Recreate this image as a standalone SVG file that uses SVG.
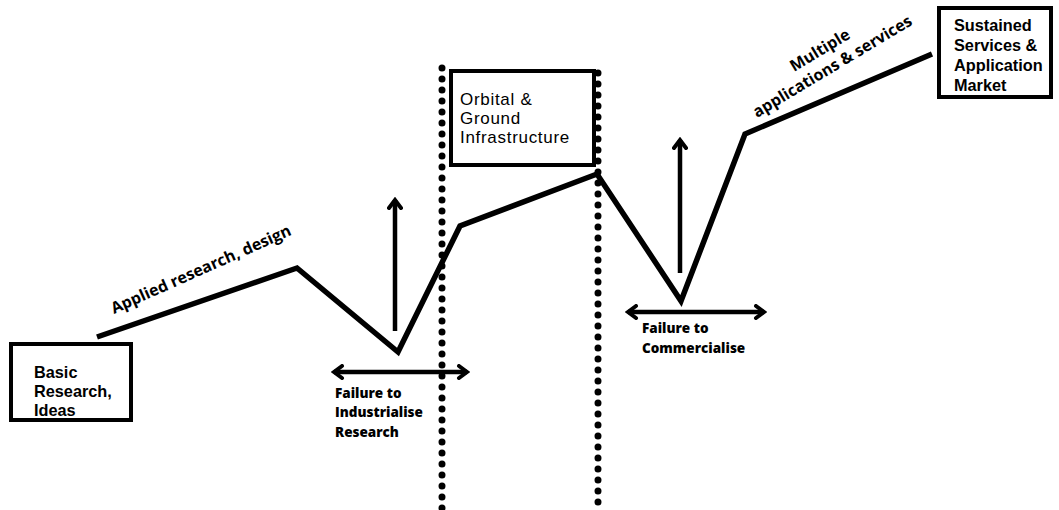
<svg xmlns="http://www.w3.org/2000/svg" width="1059" height="510" viewBox="0 0 1059 510">
<style>
.box{fill:#fff;stroke:#000;stroke-width:4}
.t{font-family:"Open Sans","Noto Sans",sans-serif;fill:#000}
.tb{font-family:"Liberation Sans",Arial,sans-serif;font-size:16.3px;font-weight:700}
.to{font-family:"Liberation Sans",Arial,sans-serif;font-size:17px;font-weight:400;letter-spacing:0.7px}
.ts{font-size:13.5px;font-weight:800}
.tl{font-size:16px;font-weight:700}
.main{fill:none;stroke:#000;stroke-width:5.5;stroke-linejoin:miter}
.arr{fill:none;stroke:#000;stroke-width:4.5}
.dots{fill:none;stroke:#000;stroke-width:7;stroke-linecap:round;stroke-dasharray:0 11}
</style>
<defs>
<marker id="ah" viewBox="0 0 14 16" refX="11" refY="8" markerWidth="14" markerHeight="16" markerUnits="userSpaceOnUse" orient="auto-start-reverse">
<path d="M3,2 L11,8 L3,14" fill="none" stroke="#000" stroke-width="4" stroke-linecap="round" stroke-linejoin="miter"/>
</marker>
</defs>
<rect width="1059" height="510" fill="#fff"/>
<g id="connectors">
<line class="dots" x1="442" y1="68" x2="442" y2="510"/>
<line class="dots" x1="598" y1="73" x2="598" y2="510"/>
<polyline class="main" points="97,337 297,268 398,352 460,226 597,174 681,301 745,134 932,54"/>
<line class="arr" x1="395" y1="331" x2="395" y2="200" marker-end="url(#ah)"/>
<line class="arr" x1="334" y1="372" x2="467" y2="372" marker-start="url(#ah)" marker-end="url(#ah)"/>
<line class="arr" x1="680" y1="273" x2="680" y2="140" marker-end="url(#ah)"/>
<line class="arr" x1="628" y1="312" x2="764" y2="312" marker-start="url(#ah)" marker-end="url(#ah)"/>
</g>
<g id="basic">
<rect class="box" x="11" y="344" width="120" height="76"/>
<text class="t tb" x="34" y="378">Basic</text>
<text class="t tb" x="34" y="397">Research,</text>
<text class="t tb" x="34" y="416">Ideas</text>
</g>
<g id="orbital">
<rect class="box" x="451" y="71" width="143" height="94"/>
<text class="t to" x="460" y="105">Orbital &amp;</text>
<text class="t to" x="460" y="124">Ground</text>
<text class="t to" x="460" y="143">Infrastructure</text>
</g>
<g id="sustained">
<rect class="box" x="939" y="8" width="112" height="89"/>
<text class="t tb" x="954" y="31">Sustained</text>
<text class="t tb" x="954" y="51">Services &amp;</text>
<text class="t tb" x="954" y="71">Application</text>
<text class="t tb" x="954" y="91">Market</text>
</g>
<g id="labels">
<text class="t tl" transform="translate(114,314) rotate(-24)">Applied research, design</text>
<text class="t tl" transform="translate(794,72) rotate(-31)">Multiple</text>
<text class="t tl" transform="translate(757,118) rotate(-31)">applications &amp; services</text>
<text class="t ts" x="335" y="398">Failure to</text>
<text class="t ts" x="335" y="417">Industrialise</text>
<text class="t ts" x="335" y="437">Research</text>
<text class="t ts" x="642" y="333">Failure to</text>
<text class="t ts" x="642" y="353">Commercialise</text>
</g>
</svg>
